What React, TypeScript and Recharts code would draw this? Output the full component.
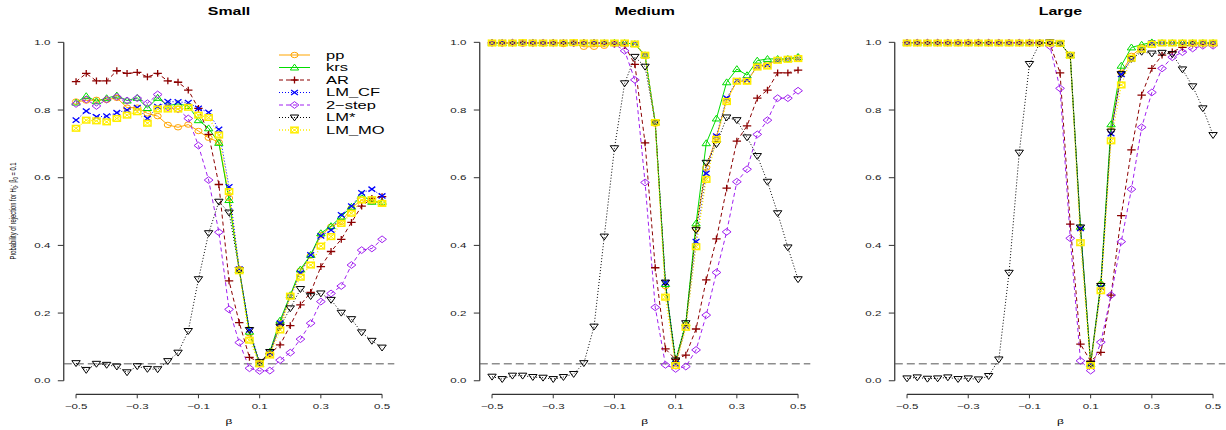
import { LineChart, Line, XAxis, YAxis, ReferenceLine } from "recharts";

// β grid, step 1/30
const BETA = [
  -0.5, -0.4667, -0.4333, -0.4, -0.3667, -0.3333, -0.3, -0.2667, -0.2333, -0.2,
  -0.1667, -0.1333, -0.1, -0.0667, -0.0333, 0, 0.0333, 0.0667, 0.1, 0.1333,
  0.1667, 0.2, 0.2333, 0.2667, 0.3, 0.3333, 0.3667, 0.4, 0.4333, 0.4667, 0.5,
];
const X_TICKS = [-0.5, -0.3, -0.1, 0.1, 0.3, 0.5];
const Y_TICKS = [0, 0.2, 0.4, 0.6, 0.8, 1];
const NOMINAL = 0.05;

// rejection rates, small sample
const SMALL_PP = [0.825, 0.828, 0.83, 0.83, 0.836, 0.807, 0.807, 0.79, 0.782, 0.756, 0.749, 0.757, 0.738, 0.718, 0.705, 0.54, 0.33, 0.14, 0.05, 0.08, 0.17, 0.25, 0.325, 0.37, 0.43, 0.455, 0.47, 0.51, 0.535, 0.53, 0.525];
const SMALL_KRS = [0.822, 0.841, 0.826, 0.835, 0.843, 0.828, 0.836, 0.806, 0.836, 0.813, 0.818, 0.812, 0.77, 0.746, 0.703, 0.534, 0.327, 0.145, 0.05, 0.086, 0.178, 0.253, 0.329, 0.372, 0.436, 0.457, 0.485, 0.514, 0.549, 0.529, 0.529];
const SMALL_AR = [0.884, 0.908, 0.886, 0.886, 0.916, 0.908, 0.911, 0.898, 0.908, 0.886, 0.882, 0.859, 0.805, 0.728, 0.58, 0.295, 0.172, 0.069, 0.055, 0.08, 0.106, 0.163, 0.224, 0.261, 0.337, 0.382, 0.418, 0.468, 0.516, 0.539, 0.544];
const SMALL_LMCF = [0.77, 0.797, 0.78, 0.782, 0.792, 0.8, 0.807, 0.775, 0.81, 0.825, 0.824, 0.822, 0.805, 0.793, 0.743, 0.573, 0.33, 0.15, 0.05, 0.082, 0.17, 0.25, 0.318, 0.372, 0.428, 0.445, 0.49, 0.516, 0.555, 0.566, 0.546];
const SMALL_2STEP = [0.818, 0.831, 0.812, 0.831, 0.839, 0.828, 0.835, 0.82, 0.846, 0.808, 0.802, 0.775, 0.695, 0.593, 0.439, 0.211, 0.113, 0.037, 0.029, 0.03, 0.061, 0.083, 0.123, 0.17, 0.234, 0.258, 0.28, 0.342, 0.386, 0.391, 0.418];
const SMALL_LMSTAR = [0.052, 0.032, 0.05, 0.047, 0.042, 0.025, 0.043, 0.035, 0.034, 0.058, 0.083, 0.147, 0.3, 0.436, 0.529, 0.497, 0.327, 0.15, 0.055, 0.085, 0.16, 0.214, 0.271, 0.25, 0.258, 0.239, 0.201, 0.182, 0.143, 0.118, 0.098];
const SMALL_LMMO = [0.746, 0.77, 0.768, 0.765, 0.775, 0.785, 0.795, 0.761, 0.803, 0.803, 0.803, 0.808, 0.785, 0.778, 0.726, 0.559, 0.325, 0.12, 0.05, 0.076, 0.15, 0.25, 0.306, 0.342, 0.398, 0.426, 0.465, 0.495, 0.534, 0.535, 0.524];

// medium sample
const MEDIUM_PP = [0.998, 0.997, 0.998, 0.996, 0.998, 0.997, 0.998, 0.995, 0.997, 0.987, 0.987, 0.99, 0.998, 0.998, 0.995, 0.96, 0.76, 0.28, 0.05, 0.165, 0.45, 0.63, 0.72, 0.83, 0.885, 0.885, 0.93, 0.935, 0.948, 0.95, 0.955];
const MEDIUM_KRS = [0.999, 0.998, 0.999, 0.998, 0.999, 0.998, 0.999, 0.998, 0.999, 0.998, 0.999, 0.998, 0.999, 0.998, 0.995, 0.962, 0.763, 0.286, 0.06, 0.17, 0.465, 0.702, 0.775, 0.882, 0.921, 0.903, 0.946, 0.951, 0.951, 0.951, 0.957];
const MEDIUM_AR = [0.999, 0.998, 0.998, 0.999, 0.998, 0.998, 0.999, 0.998, 0.998, 0.999, 0.998, 0.997, 0.995, 0.99, 0.935, 0.703, 0.334, 0.094, 0.063, 0.076, 0.153, 0.298, 0.419, 0.569, 0.708, 0.753, 0.835, 0.859, 0.91, 0.91, 0.918];
const MEDIUM_LMCF = [0.998, 0.999, 0.998, 0.998, 0.999, 0.998, 0.998, 0.999, 0.998, 0.998, 0.999, 0.998, 0.998, 0.998, 0.996, 0.962, 0.763, 0.29, 0.05, 0.16, 0.411, 0.613, 0.723, 0.835, 0.887, 0.889, 0.928, 0.933, 0.947, 0.95, 0.952];
const MEDIUM_2STEP = [0.998, 0.998, 0.999, 0.998, 0.998, 0.999, 0.998, 0.998, 0.998, 0.997, 0.998, 0.997, 0.995, 0.975, 0.889, 0.586, 0.217, 0.047, 0.035, 0.042, 0.091, 0.194, 0.32, 0.44, 0.588, 0.625, 0.728, 0.77, 0.835, 0.835, 0.857];
const MEDIUM_LMSTAR = [0.012, 0.005, 0.015, 0.015, 0.011, 0.009, 0.005, 0.011, 0.02, 0.052, 0.16, 0.426, 0.687, 0.879, 0.957, 0.928, 0.763, 0.29, 0.06, 0.17, 0.445, 0.644, 0.699, 0.778, 0.77, 0.719, 0.664, 0.588, 0.495, 0.394, 0.3];
const MEDIUM_LMMO = [0.998, 0.998, 0.998, 0.999, 0.998, 0.998, 0.998, 0.998, 0.999, 0.998, 0.998, 0.998, 0.998, 0.998, 0.995, 0.962, 0.763, 0.247, 0.045, 0.158, 0.396, 0.595, 0.713, 0.825, 0.885, 0.885, 0.927, 0.93, 0.947, 0.95, 0.952];

// large sample
const LARGE_PP = [0.998, 0.998, 0.998, 0.998, 0.998, 0.998, 0.998, 0.998, 0.998, 0.998, 0.998, 0.998, 0.998, 0.998, 0.998, 0.997, 0.962, 0.45, 0.05, 0.285, 0.74, 0.91, 0.96, 0.985, 0.998, 0.998, 0.998, 0.998, 0.998, 0.998, 0.998];
const LARGE_KRS = [0.999, 0.999, 0.999, 0.999, 0.999, 0.999, 0.999, 0.999, 0.999, 0.999, 0.999, 0.999, 0.999, 0.999, 0.998, 0.997, 0.962, 0.455, 0.05, 0.288, 0.758, 0.931, 0.985, 0.993, 1.0, 0.998, 0.998, 0.998, 0.998, 0.998, 0.998];
const LARGE_AR = [0.999, 0.999, 0.999, 0.999, 0.999, 0.999, 0.999, 0.999, 0.999, 0.999, 0.999, 0.999, 0.999, 0.999, 0.997, 0.91, 0.463, 0.108, 0.058, 0.084, 0.253, 0.488, 0.682, 0.844, 0.923, 0.962, 0.972, 0.985, 0.995, 0.995, 0.995];
const LARGE_LMCF = [0.998, 0.998, 0.998, 0.998, 0.998, 0.998, 0.998, 0.998, 0.998, 0.998, 0.998, 0.998, 0.998, 0.998, 0.998, 0.997, 0.962, 0.45, 0.05, 0.276, 0.73, 0.905, 0.95, 0.98, 0.998, 0.998, 0.998, 0.998, 0.998, 0.998, 0.998];
const LARGE_2STEP = [0.999, 0.999, 0.999, 0.999, 0.999, 0.999, 0.999, 0.999, 0.999, 0.999, 0.999, 0.999, 0.999, 0.998, 0.989, 0.864, 0.421, 0.059, 0.03, 0.114, 0.253, 0.411, 0.566, 0.749, 0.852, 0.923, 0.956, 0.971, 0.982, 0.99, 0.99];
const LARGE_LMSTAR = [0.007, 0.01, 0.006, 0.007, 0.01, 0.005, 0.007, 0.004, 0.014, 0.063, 0.319, 0.674, 0.936, 0.997, 1.0, 0.997, 0.962, 0.453, 0.05, 0.28, 0.736, 0.906, 0.951, 0.972, 0.967, 0.969, 0.965, 0.92, 0.87, 0.805, 0.726];
const LARGE_LMMO = [0.998, 0.998, 0.998, 0.998, 0.998, 0.998, 0.998, 0.998, 0.998, 0.998, 0.998, 0.998, 0.998, 0.998, 0.998, 0.997, 0.962, 0.408, 0.045, 0.266, 0.709, 0.874, 0.953, 0.98, 0.994, 0.998, 0.998, 0.998, 0.998, 0.998, 0.998];

type Shape = "circle" | "triUp" | "plus" | "cross" | "diamond" | "triDown" | "boxX";

const METHODS: { key: string; label: string; color: string; dash?: string; shape: Shape }[] = [
  { key: "pp", label: "pp", color: "#ffa500", shape: "circle" },
  { key: "krs", label: "krs", color: "#00dd00", shape: "triUp" },
  { key: "ar", label: "AR", color: "#8b0000", dash: "4 3", shape: "plus" },
  { key: "lmcf", label: "LM_CF", color: "#0000ff", dash: "1 2", shape: "cross" },
  { key: "twostep", label: "2−step", color: "#a020f0", dash: "4 3", shape: "diamond" },
  { key: "lmstar", label: "LM*", color: "#000000", dash: "1 2", shape: "triDown" },
  { key: "lmmo", label: "LM_MO", color: "#ffee00", dash: "1 2", shape: "boxX" },
];

const PANELS = [
  { title: "Small", left: 0, series: { pp: SMALL_PP, krs: SMALL_KRS, ar: SMALL_AR, lmcf: SMALL_LMCF, twostep: SMALL_2STEP, lmstar: SMALL_LMSTAR, lmmo: SMALL_LMMO } },
  { title: "Medium", left: 415.7, series: { pp: MEDIUM_PP, krs: MEDIUM_KRS, ar: MEDIUM_AR, lmcf: MEDIUM_LMCF, twostep: MEDIUM_2STEP, lmstar: MEDIUM_LMSTAR, lmmo: MEDIUM_LMMO } },
  { title: "Large", left: 831.3, series: { pp: LARGE_PP, krs: LARGE_KRS, ar: LARGE_AR, lmcf: LARGE_LMCF, twostep: LARGE_2STEP, lmstar: LARGE_LMSTAR, lmmo: LARGE_LMMO } },
];

const FONT = "'Liberation Sans', Arial, Helvetica, sans-serif";
const STRETCH = 1.65; // text is drawn wide, R device style

const CHART_W = 416;
const CHART_H = 430;
const Y_AXIS_W = 63.8;
const PLOT_W = 330.5;

function Marker({ shape, color, cx, cy }: { shape: Shape; color: string; cx: number; cy: number }) {
  const s = { fill: "none", stroke: color, strokeWidth: 1 };
  switch (shape) {
    case "circle":
      return <ellipse cx={cx} cy={cy} rx={3.6} ry={2.7} {...s} />;
    case "triUp":
      return <polygon points={`${cx},${cy - 3.4} ${cx - 4.2},${cy + 2.5} ${cx + 4.2},${cy + 2.5}`} {...s} />;
    case "plus":
      return <path d={`M${cx - 4.2},${cy}H${cx + 4.2}M${cx},${cy - 3.4}V${cy + 3.4}`} {...s} strokeWidth={1.3} />;
    case "cross":
      return <path d={`M${cx - 3.4},${cy - 2.6}L${cx + 3.4},${cy + 2.6}M${cx - 3.4},${cy + 2.6}L${cx + 3.4},${cy - 2.6}`} {...s} strokeWidth={1.3} />;
    case "diamond":
      return <polygon points={`${cx},${cy - 3.4} ${cx + 4.4},${cy} ${cx},${cy + 3.4} ${cx - 4.4},${cy}`} {...s} />;
    case "triDown":
      return <polygon points={`${cx - 4.2},${cy - 2.5} ${cx + 4.2},${cy - 2.5} ${cx},${cy + 3.4}`} {...s} />;
    default:
      return (
        <g>
          <rect x={cx - 3.6} y={cy - 2.8} width={7.2} height={5.6} {...s} strokeWidth={1.5} />
          <path d={`M${cx - 3.6},${cy - 2.8}L${cx + 3.6},${cy + 2.8}M${cx - 3.6},${cy + 2.8}L${cx + 3.6},${cy - 2.8}`} {...s} />
        </g>
      );
  }
}

const fmt = (v: number) => v.toFixed(1).replace("-", "−");

function XTick(props: any) {
  const { x, y, payload } = props;
  return (
    <text transform={`translate(${x},${y + 8.2}) scale(${STRETCH},1)`} textAnchor="middle" fontFamily={FONT} fontSize={7} fill="#222">
      {fmt(payload.value)}
    </text>
  );
}

function YTick(props: any) {
  const { x, y, payload } = props;
  return (
    <text transform={`translate(${x - 5.5},${y + 2.5}) scale(${STRETCH},1)`} textAnchor="end" fontFamily={FONT} fontSize={7} fill="#222">
      {fmt(payload.value)}
    </text>
  );
}

function Panel({ series }: { series: Record<string, number[]> }) {
  const rows = BETA.map((b, i) => {
    const row: Record<string, number> = { beta: b };
    METHODS.forEach((m) => (row[m.key] = series[m.key][i]));
    return row;
  });

  return (
    <LineChart width={CHART_W} height={CHART_H} data={rows} margin={{ top: 28.8, right: CHART_W - Y_AXIS_W - PLOT_W, bottom: 0, left: 0 }}>
      <XAxis
        type="number"
        dataKey="beta"
        domain={[-0.54, 0.54]}
        ticks={X_TICKS}
        interval={0}
        allowDataOverflow
        height={35.7}
        axisLine={false}
        tickSize={4}
        tickLine={{ stroke: "#333" }}
        tick={<XTick />}
      />
      <YAxis
        type="number"
        domain={[-0.04, 1.04]}
        ticks={Y_TICKS}
        interval={0}
        allowDataOverflow
        width={Y_AXIS_W}
        axisLine={false}
        tickSize={6}
        tickLine={{ stroke: "#333" }}
        tick={<YTick />}
      />
      <ReferenceLine segment={[{ x: -0.5, y: -0.04 }, { x: 0.5, y: -0.04 }]} stroke="#000" ifOverflow="visible" />
      <ReferenceLine segment={[{ x: -0.54, y: 0 }, { x: -0.54, y: 1 }]} stroke="#000" ifOverflow="visible" />
      <ReferenceLine y={NOMINAL} stroke="#555" strokeDasharray="8 4" />
      {METHODS.map((m) => (
        <Line
          key={m.key}
          type="linear"
          dataKey={m.key}
          stroke={m.color}
          strokeWidth={m.key === "lmmo" ? 1.3 : 1}
          strokeDasharray={m.dash}
          isAnimationActive={false}
          activeDot={false}
          dot={(p: any) => <Marker key={`${m.key}-${p.index}`} shape={m.shape} color={m.color} cx={p.cx} cy={p.cy} />}
        />
      ))}
    </LineChart>
  );
}

function Decorations() {
  const rowY = (i: number) => 55 + 12.5 * i;
  return (
    <svg width={1226} height={430} style={{ position: "absolute", left: 0, top: 0, pointerEvents: "none" }}>
      {PANELS.map((p) => {
        const cx = p.left + Y_AXIS_W + PLOT_W / 2;
        return (
          <g key={p.title}>
            <text transform={`translate(${cx},15) scale(1.45,1)`} textAnchor="middle" fontFamily={FONT} fontWeight="bold" fontSize={11} fill="#000">
              {p.title}
            </text>
            <text transform={`translate(${cx},423.5) scale(1.5,1)`} textAnchor="middle" fontFamily={FONT} fontSize={8} fill="#000">
              β
            </text>
          </g>
        );
      })}
      <text transform="translate(16,211) scale(1.5,1) rotate(-90)" textAnchor="middle" fontFamily={FONT} fontSize={5.8} fill="#000">
        Probability of rejection for H<tspan fontSize={4.2} dy={1.5}>0</tspan>
        <tspan dy={-1.5}>: β</tspan>
        <tspan fontSize={4.2} dy={1.5}>0</tspan>
        <tspan dy={-1.5}> = 0.1</tspan>
      </text>
      {METHODS.map((m, i) => (
        <g key={m.key}>
          <line x1={279} x2={310} y1={rowY(i)} y2={rowY(i)} stroke={m.color} strokeWidth={m.key === "lmmo" ? 1.3 : 1} strokeDasharray={m.dash} />
          <Marker shape={m.shape} color={m.color} cx={294.5} cy={rowY(i)} />
          <text transform={`translate(326,${rowY(i) + 3.6}) scale(${STRETCH},1)`} fontFamily={FONT} fontSize={10} fill="#000">
            {m.label}
          </text>
        </g>
      ))}
    </svg>
  );
}

export default function App() {
  return (
    <div style={{ position: "absolute", left: 0, top: 0, width: 1226, height: 430, overflow: "hidden", background: "#fff" }}>
      {PANELS.map((p) => (
        <div key={p.title} style={{ position: "absolute", left: p.left, top: 0 }}>
          <Panel series={p.series} />
        </div>
      ))}
      <Decorations />
    </div>
  );
}
